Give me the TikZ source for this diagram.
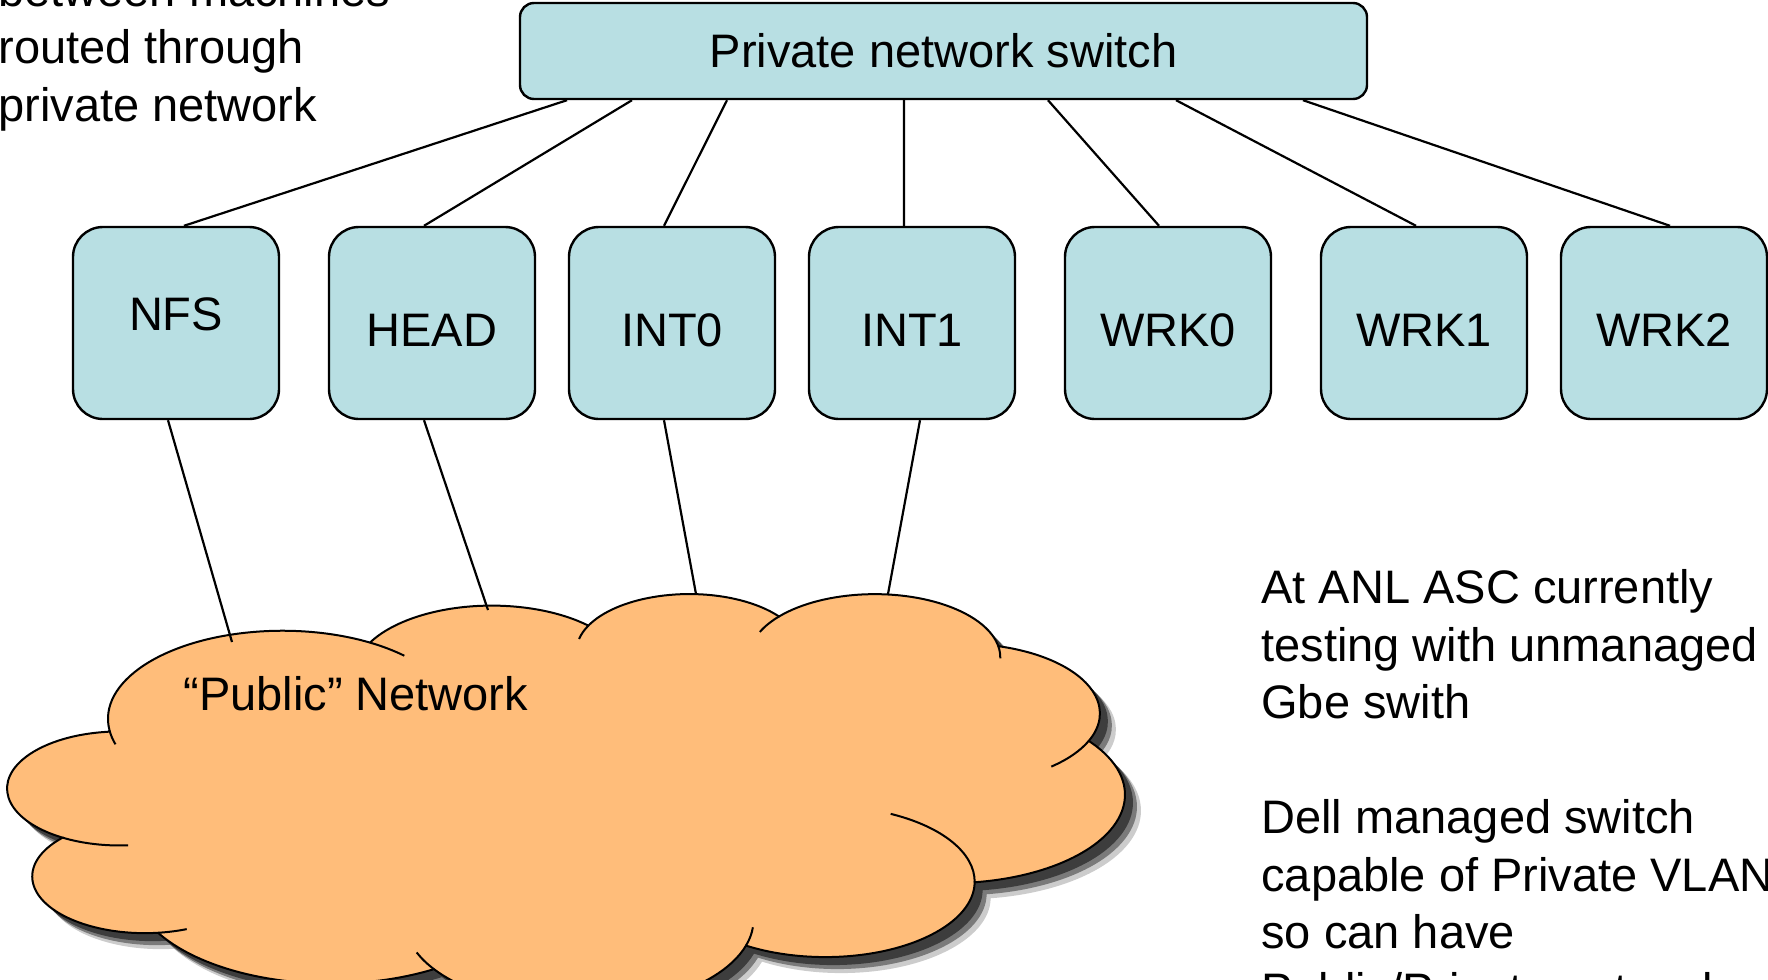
\documentclass[tikz,border=0pt]{standalone}
\usepackage{fontspec}
\setmainfont{Liberation Sans}
\usetikzlibrary{positioning,shadows,calc}
\definecolor{netaqua}{HTML}{B8DFE3}
\definecolor{netorange}{HTML}{FFBD7A}
\tikzset{
  big/.style={font=\fontsize{23.5pt}{28.75pt}\selectfont},
  switchbox/.style={big,draw=black,line width=1.2pt,fill=netaqua,rounded corners=7pt,minimum width=423.5pt,minimum height=48pt,inner sep=0pt},
  host/.style={big,draw=black,line width=1.2pt,fill=netaqua,rounded corners=15pt,minimum width=103pt,minimum height=96pt,inner sep=0pt,text height=23.8pt,text depth=0pt},
  link/.style={draw=black,line width=1.1pt},
  cloudbody/.style={draw=black,line width=1pt,fill=netorange,
    drop shadow={shadow xshift=4pt,shadow yshift=-4pt,fill=black,opacity=.5},
    drop shadow={shadow xshift=6pt,shadow yshift=-6pt,fill=black,opacity=.4},
    drop shadow={shadow xshift=8pt,shadow yshift=-8pt,fill=black,opacity=.2}},
  puff/.style={draw=black,line width=1pt},
  note/.style={big,align=left,inner sep=0pt},
}
\begin{document}
\begin{tikzpicture}[x=0.5pt,y=-0.5pt]
  \useasboundingbox (0,0) rectangle (1768,980);
  \clip (0,0) rectangle (1768,980);
  % public network cloud
  \draw[cloudbody] (109.6,730.7) coordinate (k0)
    arc[start angle=172.254,delta angle=127.816,x radius=174.53,y radius=88.10] coordinate (k1)
    arc[start angle=-152.025,delta angle=106.566,x radius=137.83,y radius=69.67] coordinate (k2)
    arc[start angle=-153.494,delta angle=116.164,x radius=112.81,y radius=56.99] coordinate (k3)
    arc[start angle=-139.708,delta angle=129.497,x radius=125.53,y radius=63.23] coordinate (k4)
    arc[start angle=-74.769,delta angle=97.978,x radius=137.83,y radius=69.73] coordinate (k5)
    arc[start angle=-37.521,delta angle=119.384,x radius=175.10,y radius=88.39] coordinate (k6)
    arc[start angle=0.46,delta angle=121.52,x radius=149.51,y radius=75.42] coordinate (k7)
    arc[start angle=16.844,delta angle=129.382,x radius=174.50,y radius=88.34] coordinate (k8)
    arc[start angle=58.985,delta angle=91.199,x radius=199.52,y radius=101.08] coordinate (k9)
    arc[start angle=83.306,delta angle=139.785,x radius=112.68,y radius=56.74] coordinate (k10)
    arc[start angle=120.36,delta angle=143.752,x radius=112.29,y radius=56.99] -- cycle;
  \draw[puff] (k10) arc[start angle=120.36,delta angle=-34.82,x radius=112.29,y radius=56.99];
  \draw[puff] (k9) arc[start angle=83.306,delta angle=-15.08,x radius=112.68,y radius=56.74];
  \draw[puff] (k8) arc[start angle=146.226,delta angle=12.24,x radius=174.50,y radius=88.34];
  \draw[puff] (k7) arc[start angle=16.844,delta angle=-12.11,x radius=174.50,y radius=88.34];
  \draw[puff] (k6) arc[start angle=0.46,delta angle=-64.48,x radius=149.51,y radius=75.42];
  \draw[puff] (k5) arc[start angle=23.209,delta angle=26.44,x radius=137.83,y radius=69.73];
  \draw[puff] (k4) arc[start angle=-10.211,delta angle=11.04,x radius=125.53,y radius=63.23];
  \draw[puff] (k3) arc[start angle=-139.708,delta angle=-16.57,x radius=125.53,y radius=63.23];
  \draw[puff] (k2) arc[start angle=-153.494,delta angle=-14.23,x radius=112.81,y radius=56.99];
  \draw[puff] (k1) arc[start angle=-59.93,delta angle=14.18,x radius=174.53,y radius=88.10];
  \draw[puff] (k0) arc[start angle=172.254,delta angle=-9.06,x radius=174.53,y radius=88.10];
  \node[big,anchor=base west,inner sep=0pt] (public) at (183,710) {“Public” Network};
  \coordinate (pubnfs) at (232,642);
  \coordinate (pubhead) at (488,610);
  \coordinate (pubint0) at (696,594);
  \coordinate (pubint1) at (888,594);
  % switch and hosts
  \node[switchbox] (switch) at (943.5,51) {Private network switch};
  \node[host,text height=16.8pt,text depth=9pt] (nfs) at (176,323) {NFS};
  \node[host,right=23.8pt of nfs] (head) {HEAD};
  \node[host,right=15.8pt of head] (int0) {INT0};
  \node[host,right=15.8pt of int0] (int1) {INT1};
  \node[host,right=23.8pt of int1] (wrk0) {WRK0};
  \node[host,right=23.8pt of wrk0] (wrk1) {WRK1};
  \node[host,right=15.8pt of wrk1] (wrk2) {WRK2};
  \draw[link] ([xshift=-188.25pt]switch.south) -- ([xshift=4pt]nfs.north);
  \draw[link] ([xshift=-155.75pt]switch.south) -- ([xshift=-4pt]head.north);
  \draw[link] ([xshift=-108.25pt]switch.south) -- ([xshift=-4pt]int0.north);
  \draw[link] ([xshift=-19.75pt]switch.south) -- ([xshift=-4pt]int1.north);
  \draw[link] ([xshift=52.25pt]switch.south) -- ([xshift=-4.5pt]wrk0.north);
  \draw[link] ([xshift=116.25pt]switch.south) -- ([xshift=-4pt]wrk1.north);
  \draw[link] ([xshift=179.75pt]switch.south) -- ([xshift=3pt]wrk2.north);
  \draw[link] ([xshift=-4pt]nfs.south) -- (pubnfs);
  \draw[link] ([xshift=-4pt]head.south) -- (pubhead);
  \draw[link] ([xshift=-4pt]int0.south) -- (pubint0);
  \draw[link] ([xshift=4pt]int1.south) -- (pubint1);
  % notes
  \node[note,anchor=base west] (leftnote) at (-2,121) {between machines\\routed through\\private network};
  \node[note,anchor=base west] (rightnote) at (1261,1006) {At ANL ASC currently\\testing with unmanaged\\Gbe swith\\[28.75pt]Dell managed switch\\capable of Private VLAN\\so can have\\Public/Private network};
\end{tikzpicture}
\end{document}
